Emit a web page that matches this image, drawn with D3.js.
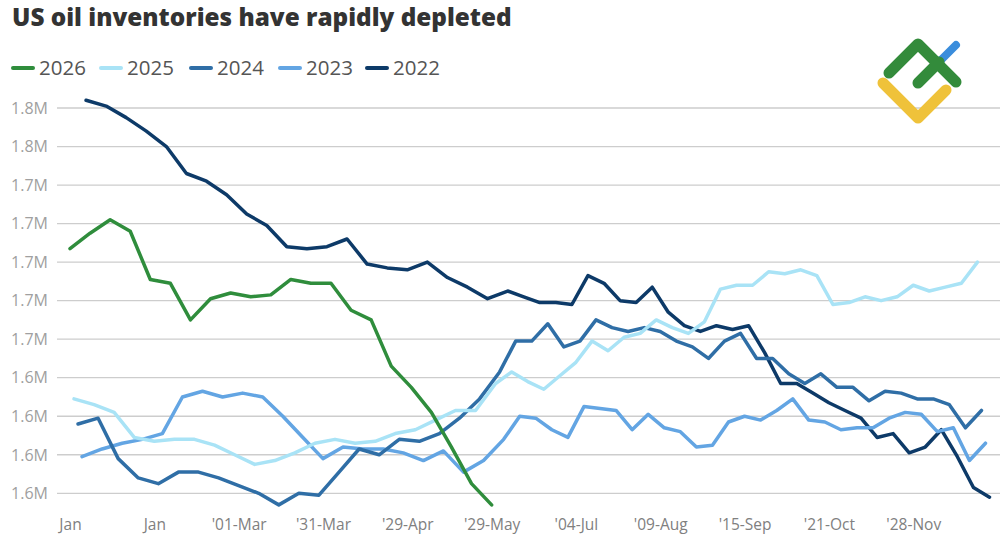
<!DOCTYPE html>
<html><head><meta charset="utf-8">
<script src="https://cdn.jsdelivr.net/npm/d3@7"></script>
<style>body{margin:0;background:#fff}svg{display:block}</style>
</head><body>
<svg id="chart" width="1000" height="545"></svg>
<script>
// ---- data ----
const seriesNames = ["2026", "2025", "2024", "2023", "2022"];
const firstWeek = { "2026": "2026-01-02", "2025": "2025-01-03", "2024": "2024-01-05", "2023": "2023-01-06", "2022": "2022-01-07" };
const values2026 = [1.707,1.715,1.722,1.716,1.691,1.689,1.670,1.681,1.684,1.682,1.683,1.691,1.689,1.689,1.675,1.670,1.646,1.635,1.622,1.604,1.585,1.574];
const values2025 = [1.629,1.626,1.622,1.609,1.607,1.608,1.608,1.605,1.600,1.595,1.597,1.601,1.606,1.608,1.606,1.607,1.611,1.613,1.618,1.623,1.623,1.637,1.643,1.638,1.634,1.641,1.648,1.659,1.654,1.661,1.663,1.670,1.666,1.663,1.669,1.686,1.688,1.688,1.695,1.694,1.696,1.693,1.678,1.679,1.682,1.680,1.682,1.688,1.685,1.687,1.689,1.700];
const values2024 = [1.616,1.619,1.598,1.588,1.585,1.591,1.591,1.588,1.584,1.580,1.574,1.580,1.579,1.591,1.603,1.600,1.608,1.607,1.611,1.619,1.629,1.643,1.659,1.659,1.668,1.656,1.659,1.670,1.666,1.664,1.666,1.664,1.659,1.656,1.650,1.659,1.663,1.650,1.650,1.642,1.637,1.642,1.635,1.635,1.628,1.633,1.632,1.629,1.629,1.626,1.614,1.623];
const values2023 = [1.599,1.603,1.606,1.608,1.611,1.630,1.633,1.630,1.632,1.630,1.620,1.609,1.598,1.604,1.603,1.603,1.601,1.597,1.602,1.591,1.597,1.608,1.620,1.619,1.613,1.609,1.625,1.624,1.623,1.613,1.621,1.614,1.612,1.604,1.605,1.617,1.620,1.618,1.623,1.629,1.618,1.617,1.613,1.614,1.614,1.619,1.622,1.621,1.612,1.614,1.597,1.606];
const values2022 = [1.784,1.781,1.775,1.768,1.760,1.746,1.742,1.735,1.725,1.719,1.708,1.707,1.708,1.712,1.699,1.697,1.696,1.700,1.692,1.687,1.681,1.685,1.682,1.679,1.679,1.678,1.693,1.689,1.680,1.679,1.687,1.674,1.667,1.664,1.667,1.665,1.667,1.653,1.637,1.637,1.632,1.627,1.623,1.619,1.609,1.611,1.601,1.604,1.613,1.599,1.583,1.578];
const yTickValues = [1.58,1.60,1.62,1.64,1.66,1.68,1.70,1.72,1.74,1.76,1.78];
const xTickLabels = ["Jan","Jan","'01-Mar","'31-Mar","'29-Apr","'29-May","'04-Jul","'09-Aug","'15-Sep","'21-Oct","'28-Nov"];
const colors = { "2026": "#2f8d3c", "2025": "#a9e3f6", "2024": "#2f6ea6", "2023": "#63a5e3", "2022": "#0d3a68" };
const valuesByYear = { "2026": values2026, "2025": values2025, "2024": values2024, "2023": values2023, "2022": values2022 };

// ---- build ----
const parse = d3.utcParse("%Y-%m-%d");
const keyFmt = d3.utcFormat("%m-%d");
const series = seriesNames.map(name => {
  const start = parse(firstWeek[name]);
  return { name, points: valuesByYear[name].map((v, i) => ({ key: keyFmt(d3.utcDay.offset(start, 7 * i)), v })) };
});
const keys = Array.from(new Set(series.flatMap(s => s.points.map(p => p.key)))).sort();

const svg = d3.select("#chart");
const x = d3.scalePoint().domain(keys).range([70, 989.5]);
const y = d3.scaleLinear().domain([1.58, 1.78]).range([493.3, 108]);

// title
svg.append("text").attr("x", 12).attr("y", 26)
  .style("font-family", "'Open Sans', sans-serif").style("font-weight", "800")
  .style("font-size", "24.3px").style("fill", "#333").text("US oil inventories have rapidly depleted");

// legend
const lg = svg.append("g");
const legendX = [13, 101, 191, 280, 367];
seriesNames.forEach((n, i) => {
  const g = lg.append("g").attr("transform", `translate(${legendX[i]},68)`);
  g.append("line").attr("x1", 0).attr("x2", 20).attr("y1", 0).attr("y2", 0)
    .attr("stroke", colors[n]).attr("stroke-width", 4).attr("stroke-linecap", "round");
  g.append("text").attr("x", 26).attr("y", 7)
    .style("font-family", "'Open Sans', sans-serif").style("font-size", "20.5px")
    .style("fill", "#555").text(n);
});

// y grid + labels
const yAxis = svg.append("g");
yAxis.selectAll("line").data(yTickValues).join("line")
  .attr("x1", 57).attr("x2", 1000).attr("y1", d => y(d)).attr("y2", d => y(d))
  .attr("stroke", "#cdcdcd").attr("stroke-width", 1.3);
yAxis.selectAll("text").data(yTickValues).join("text")
  .attr("x", 48).attr("y", d => y(d)).attr("dy", "0.36em").attr("text-anchor", "end")
  .style("font-family", "'Open Sans', sans-serif").style("font-size", "16px").style("fill", "#a0a0a0")
  .text(d => d3.format(".1f")(d) + "M");

// x axis
const tickKeys = keys.filter((k, i) => i % 21 === 0);
const xAxis = svg.append("g").attr("transform", "translate(0,513)")
  .call(d3.axisBottom(x).tickValues(tickKeys).tickSize(0).tickPadding(6).tickFormat((d, i) => xTickLabels[i]));
xAxis.select(".domain").remove();
xAxis.selectAll("text").style("font-family", "'Open Sans', sans-serif").style("font-size", "15.5px").style("fill", "#808080");

// lines
const line = d3.line().x(d => x(d.key)).y(d => y(d.v));
const drawOrder = ["2022", "2023", "2024", "2025", "2026"];
svg.append("g").selectAll("path").data(drawOrder.map(n => series.find(s => s.name === n))).join("path")
  .attr("d", d => line(d.points)).attr("fill", "none")
  .attr("stroke", d => colors[d.name]).attr("stroke-width", 3.5)
  .attr("stroke-linejoin", "round").attr("stroke-linecap", "round");

// logo
const logo = svg.append("g").attr("fill", "none").attr("stroke-linecap", "round").attr("stroke-linejoin", "round");
logo.append("path").attr("d", "M883,83 L918,118 L946,90").attr("stroke", "#efc23a").attr("stroke-width", 11);
logo.append("path").attr("d", "M937,64 L956,45").attr("stroke", "#3a8ddc").attr("stroke-width", 8);
logo.append("path").attr("d", "M889,73 L918,44 L956,82").attr("stroke", "#338b3b").attr("stroke-width", 11);
logo.append("path").attr("d", "M918,83 L939,62").attr("stroke", "#338b3b").attr("stroke-width", 11);
</script>
</body></html>
